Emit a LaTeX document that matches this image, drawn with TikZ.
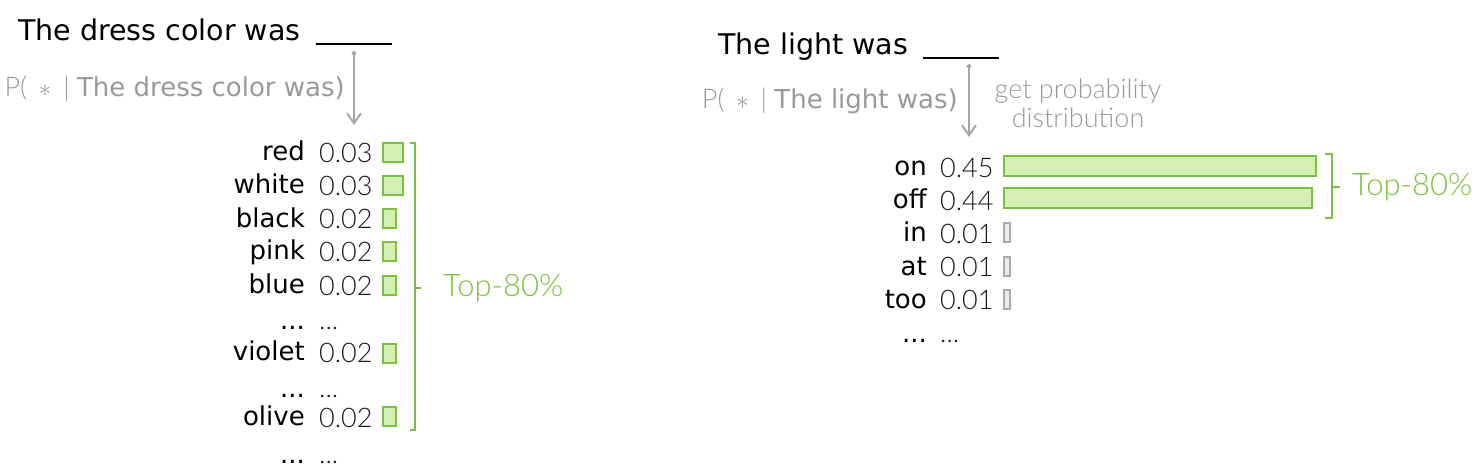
\documentclass[tikz,border=0pt]{standalone}
\usepackage{fontspec}
\usetikzlibrary{arrows.meta}
\newfontfamily\wordfont{DejaVu Sans}
\newfontfamily\numfont{Lato}[UprightFont=* Light]
\definecolor{grn}{HTML}{7AC143}
\definecolor{grnfill}{HTML}{D3F0B2}
\definecolor{gtext}{HTML}{7DBF3A}
\definecolor{garrow}{HTML}{A6A6A6}
\definecolor{gtxt}{HTML}{999999}
\definecolor{gbar}{HTML}{AAAAAA}
\definecolor{gbarfill}{HTML}{EAEAEA}
\tikzset{
  title/.style={anchor=base west, inner sep=0pt, font=\wordfont\fontsize{28.5}{32}\selectfont},
  word/.style={anchor=base east, inner sep=0pt, font=\wordfont\fontsize{26}{30}\selectfont},
  num/.style={anchor=base west, inner sep=0pt, font=\numfont\fontsize{27}{30}\selectfont, text=black!90},
  cond/.style={anchor=base east, inner sep=0pt, text=gtxt, font=\numfont\fontsize{27}{30}\selectfont},
  note/.style={inner sep=0pt, text=gtxt, font=\numfont\fontsize{27}{30}\selectfont, align=center},
  gbox/.style={draw=grn, fill=grnfill, line width=1.6pt},
  sbox/.style={draw=gbar, fill=gbarfill, line width=1.2pt},
  brace/.style={draw=grn, line width=1.6pt},
  toplabel/.style={anchor=west, inner sep=0pt, text=gtext, font=\numfont\fontsize{31}{34}\selectfont},
  blank/.style={line width=2.8pt},
  probarrow/.style={draw=garrow, line width=2pt, {Circle[length=4.5pt]}-{Straight Barb[length=10pt,width=14pt,line width=2pt]}},
}
\begin{document}
\begin{tikzpicture}[x=1pt,y=-1pt]
\useasboundingbox (0,0) rectangle (1475,472);
% ---------- left panel ----------
\node[title] (t1) at (18,40) {The dress color was};
\coordinate (b1a) at (316,44); \coordinate (b1b) at (392,44);
\draw[blank] (b1a) -- (b1b);
\coordinate (a1s) at (354,51); \coordinate (a1e) at (354,125);
\draw[probarrow] (a1s) -- (a1e);
\node[cond] (c1) at (345,96) {P( \,$\ast$\, | {\wordfont\fontsize{26}{30}\selectfont The dress color was)}};
% rows
\node[word] (w1) at (305,160) {red};    \node[num] (n1) at (319,162) {0.03};
\node[word] (w2) at (305,193) {white};  \node[num] (n2) at (319,195) {0.03};
\node[word] (w3) at (305,227) {black};  \node[num] (n3) at (319,228) {0.02};
\node[word] (w4) at (305,259) {pink};   \node[num] (n4) at (319,261) {0.02};
\node[word] (w5) at (305,293) {blue};   \node[num] (n5) at (319,295) {0.02};
\node[word] (w6) at (305,329) {...};    \node[num] (n6) at (319,329) {...};
\node[word] (w7) at (305,360) {violet}; \node[num] (n7) at (319,362) {0.02};
\node[word] (w8) at (305,397) {...};    \node[num] (n8) at (319,397) {...};
\node[word] (w9) at (305,425) {olive};  \node[num] (n9) at (319,427) {0.02};
\node[word] (w10) at (305,463) {...};   \node[num] (n10) at (319,463) {...};
% bars
\draw[gbox] (383,143) rectangle (403,162);
\draw[gbox] (383,176) rectangle (403,195);
\draw[gbox] (383,209) rectangle (396,228);
\draw[gbox] (383,242) rectangle (396,261);
\draw[gbox] (383,276) rectangle (396,295);
\draw[gbox] (383,344) rectangle (396,363);
\draw[gbox] (383,407) rectangle (396,426);
% brace
\coordinate (br1t) at (410,143); \coordinate (br1b) at (410,430); \coordinate (br1m) at (421,288);
\draw[brace] (br1t) -- (415,143) -- (415,430) -- (br1b);
\draw[brace] (415,288) -- (br1m);
\node[toplabel] (tl1) at (443,288) {Top-80\%};
% ---------- right panel ----------
\node[title] (t2) at (718,54) {The light was};
\coordinate (b2a) at (923,58); \coordinate (b2b) at (999,58);
\draw[blank] (b2a) -- (b2b);
\coordinate (a2s) at (969,64); \coordinate (a2e) at (969,137);
\draw[probarrow] (a2s) -- (a2e);
\node[cond] (c2) at (958,108) {P( \,$\ast$\, | {\wordfont\fontsize{26}{30}\selectfont The light was)}};
\node[note, anchor=north] (g2) at (1078,79) {get probability\\[-1pt]distribution};
% rows
\node[word] (r1) at (927,175) {on};  \node[num] (m1) at (940,177) {0.45};
\node[word] (r2) at (927,208) {off}; \node[num] (m2) at (940,210) {0.44};
\node[word] (r3) at (927,241) {in};  \node[num] (m3) at (940,243) {0.01};
\node[word] (r4) at (927,275) {at};  \node[num] (m4) at (940,276) {0.01};
\node[word] (r5) at (927,308) {too}; \node[num] (m5) at (940,309) {0.01};
\node[word] (r6) at (927,342) {...}; \node[num] (m6) at (940,342) {...};
\draw[gbox] (1004,156) rectangle (1316,176);
\draw[gbox] (1004,188) rectangle (1312,208);
\draw[sbox] (1004,223) rectangle (1010,242);
\draw[sbox] (1004,257) rectangle (1010,276);
\draw[sbox] (1004,290) rectangle (1010,309);
\coordinate (br2t) at (1325,154); \coordinate (br2b) at (1325,218); \coordinate (br2m) at (1340,187);
\draw[brace] (br2t) -- (1332,154) -- (1332,218) -- (br2b);
\draw[brace] (1332,187) -- (br2m);
\node[toplabel] (tl2) at (1352,187) {Top-80\%};
\end{tikzpicture}
\end{document}
